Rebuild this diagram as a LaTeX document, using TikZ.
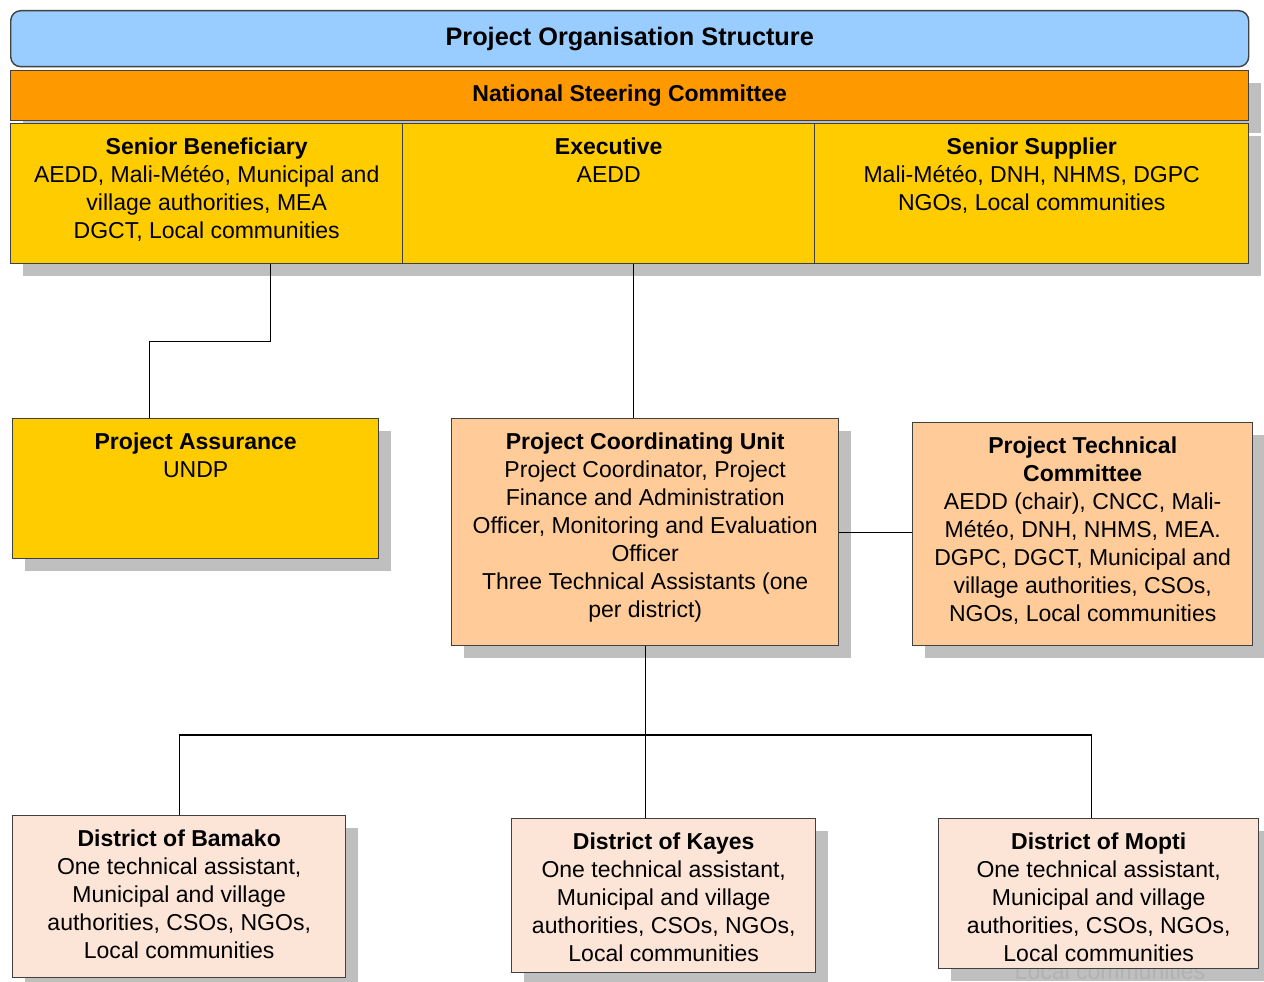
\documentclass[tikz,border=0pt]{standalone}
\usepackage{fontspec}
\setmainfont{Liberation Sans}
\usetikzlibrary{shadows}

\definecolor{titleblue}{HTML}{99CCFF}
\definecolor{nscorange}{HTML}{FF9900}
\definecolor{boardgold}{HTML}{FFCC00}
\definecolor{unitpeach}{HTML}{FFCC99}
\definecolor{districtpink}{HTML}{FCE4D6}
\definecolor{boxedge}{HTML}{404040}

\newlength\pxu
\setlength\pxu{0.02cm}
\newcommand\boxtext[3]{\parbox[c][#2\pxu][t]{#1\pxu}{\centering\rule{0pt}{31\pxu}#3}}

\begin{document}
\begin{tikzpicture}[x=\pxu, y=-\pxu,
    font=\fontsize{13.1pt}{15.9pt}\selectfont,
    plainbox/.style={draw=boxedge, line width=0.8pt, inner sep=0pt, anchor=north west},
    orgbox/.style={plainbox, drop shadow={shadow xshift=12\pxu, shadow yshift=-12\pxu, fill=black!25, opacity=1}},
    link/.style={line width=0.7pt}]
    \useasboundingbox (0,0) rectangle (1264,982);

    % Header bars
    \node[plainbox, fill=titleblue, rounded corners=10\pxu, minimum width=1238\pxu, minimum height=56\pxu,
          font=\fontsize{14.4pt}{17pt}\selectfont\bfseries] (title) at (10,10) {Project Organisation Structure};
    \node[orgbox, fill=nscorange, minimum width=1238\pxu, minimum height=50\pxu,
          font=\fontsize{13.1pt}{15.9pt}\selectfont\bfseries] (nsc) at (10,70) {National Steering Committee};

    % Board
    \node[orgbox, fill=boardgold] (benef) at (10,123) {\boxtext{392}{140}{\textbf{Senior Beneficiary}\\AEDD, Mali-Météo, Municipal and\\village authorities, MEA\\DGCT, Local communities}};
    \node[orgbox, fill=boardgold] (exec) at (402,123) {\boxtext{412}{140}{\textbf{Executive}\\AEDD}};
    \node[orgbox, fill=boardgold] (supplier) at (814,123) {\boxtext{434}{140}{\textbf{Senior Supplier}\\Mali-Météo, DNH, NHMS, DGPC\\NGOs, Local communities}};

    % Project level
    \node[orgbox, fill=boardgold] (assur) at (12,418) {\boxtext{366}{140}{\textbf{Project Assurance}\\UNDP}};
    \node[orgbox, fill=unitpeach] (pcu) at (451,418) {\boxtext{387}{227}{\textbf{Project Coordinating Unit}\\Project Coordinator, Project\\Finance and Administration\\Officer, Monitoring and Evaluation\\Officer\\Three Technical Assistants (one\\per district)}};
    \node[orgbox, fill=unitpeach] (ptc) at (912,422) {\boxtext{340}{223}{\textbf{Project Technical\\Committee}\\AEDD (chair), CNCC, Mali-\\Météo, DNH, NHMS, MEA.\\DGPC, DGCT, Municipal and\\village authorities, CSOs,\\NGOs, Local communities}};

    % Districts
    \node[orgbox, fill=districtpink] (bamako) at (12,815) {\boxtext{333}{162}{\textbf{District of Bamako}\\One technical assistant,\\Municipal and village\\authorities, CSOs, NGOs,\\Local communities}};
    \node[orgbox, fill=districtpink] (kayes) at (511,818) {\boxtext{304}{154}{\textbf{District of Kayes}\\One technical assistant,\\Municipal and village\\authorities, CSOs, NGOs,\\Local communities}};
    \node[orgbox, fill=districtpink] (mopti) at (938,818) {\boxtext{320}{150}{\textbf{District of Mopti}\\One technical assistant,\\Municipal and village\\authorities, CSOs, NGOs,\\Local communities}};
    \begin{scope}
        \clip (938,969) rectangle (1264,982);
        \node[text=black!30, anchor=base] (ghost) at (1110,979) {Local communities};
    \end{scope}

    % Connectors
    \draw[link] ([xshift=64\pxu]benef.south) -- ++(0,77) -| ([xshift=-46\pxu]assur.north);
    \draw[link] ([xshift=25\pxu]exec.south) -- ([xshift=25\pxu]exec.south |- pcu.north);
    \draw[link] (pcu.east) -- (pcu.east -| ptc.west);
    \draw[link] (pcu.south) -- (pcu.south |- kayes.north);
    \draw[link] (bamako.north) -- ++(0,-80) -| ([xshift=-7\pxu]mopti.north);

\end{tikzpicture}
\end{document}
